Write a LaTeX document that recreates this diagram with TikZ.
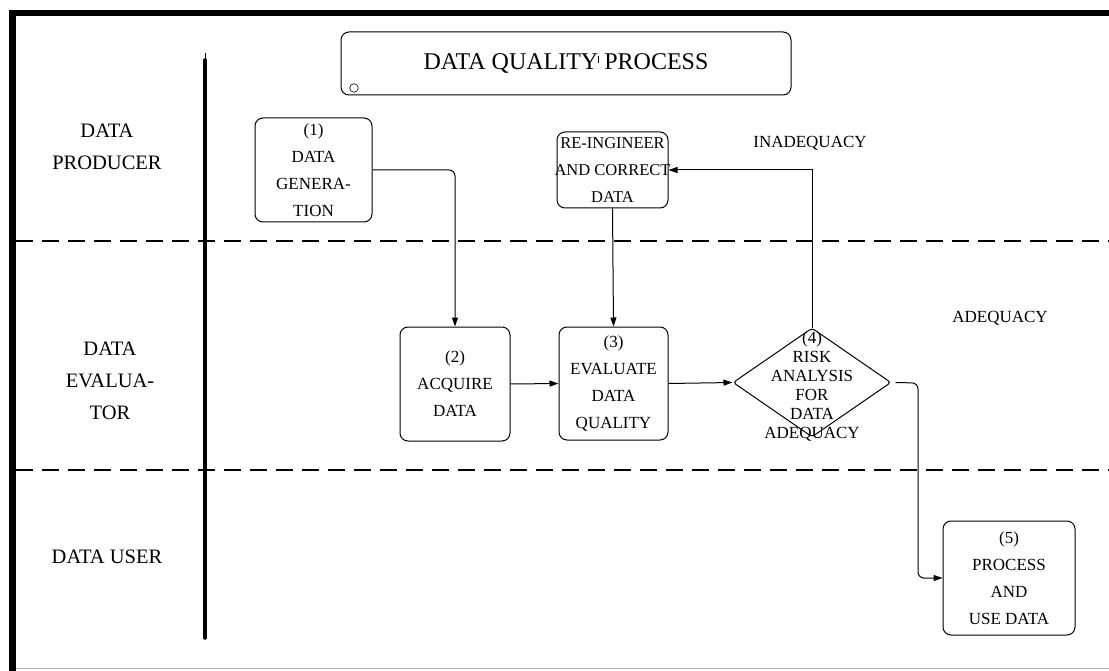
\documentclass[tikz,border=0pt]{standalone}
\usepackage{fontspec}
\setmainfont{Liberation Serif}
\usetikzlibrary{shapes.geometric,arrows.meta}
\newcommand{\fixw}[1]{\makebox[100pt][c]{#1}}
\begin{document}
\begin{tikzpicture}[x=1pt,y=-1pt,
  box/.style={draw,line width=1pt,rounded corners=8pt,inner sep=0pt,align=center,
    font={\fontsize{17}{27}\selectfont}},
  lane/.style={align=center,font={\fontsize{20.5}{32}\selectfont}},
  conn/.style={draw,line width=1pt,-{Triangle[length=9pt,width=6pt]}},
  divider/.style={line width=2pt,dash pattern=on 17pt off 9pt},
  lbl/.style={font={\fontsize{17}{20}\selectfont}}]
\useasboundingbox (0,0) rectangle (1109,671);
% frame
\draw[line width=6pt] (9.5,13) -- (1109,13);
\draw[line width=7pt] (12.5,10) -- (12.5,671);
\draw[gray!60,line width=1pt] (16,668.5) -- (1109,668.5);
% lane divider
\draw[line width=3.5pt,line cap=round] (205,60) -- (205,638);
\draw[line width=1pt] (205,53) -- (205,62);
% dashed separators
\draw[divider] (16,241) -- (1109,241);
\draw[divider] (16,470) -- (1109,470);
% title
\node[draw,line width=1pt,rounded corners=8pt,minimum width=450pt,minimum height=63pt,
  font={\fontsize{24}{28}\selectfont}] (title) at (566,63.5)
  {DATA QUALITY\rlap{\raisebox{6pt}{\rule{0.8pt}{7pt}}} PROCESS};
\draw[line width=0.6pt] (354,88) circle (4.3pt);
% lane labels
\node[lane] (lp) at (107,147) {DATA\\PRODUCER};
\node[lane] (le) at (110,381) {DATA\\EVALUA-\\TOR};
\node[lane] (lu) at (107,557) {DATA USER};
% boxes
\node[box,minimum width=117pt,minimum height=104pt] (g) at (313.5,170) {(1)\\DATA\\GENERA-\\TION};
\node[box,minimum width=111pt,minimum height=76pt,font={\fontsize{16.5}{27}\selectfont}] (r) at (612.5,170)
  {\fixw{RE-INGINEER}\\\fixw{AND CORRECT}\\\fixw{DATA}};
\node[box,minimum width=110pt,minimum height=114pt] (a) at (455,384) {(2)\\ACQUIRE\\DATA};
\node[box,minimum width=109pt,minimum height=113pt] (e) at (613.5,383.5) {(3)\\EVALUATE\\DATA\\QUALITY};
\node[draw,line width=1pt,diamond,rounded corners=3pt,minimum width=158pt,minimum height=109pt,inner sep=0pt] (d) at (812,382.5) {};
\node[align=center,font={\fontsize{17}{19}\selectfont}] (dt) at (812,386) {(4)\\RISK\\ANALYSIS\\FOR\\DATA\\ADEQUACY};
\node[box,minimum width=132pt,minimum height=114pt] (p) at (1009,578) {(5)\\PROCESS\\AND\\USE DATA};
% labels
\node[lbl] (inad) at (810,143) {INADEQUACY};
\node[lbl] (ad) at (1000,318) {ADEQUACY};
% connectors
\draw[conn,rounded corners=6pt] (g.east) -| (a.north);
\draw[conn] (r.south) -- (e.north);
\draw[conn] (a.east) -- (e.west);
\draw[conn] (e.east) -- (d.west);
\draw[conn] (d.north) |- (r.east);
\coordinate (k1) at (918,383);
\draw[conn,rounded corners=6pt] ([xshift=4pt]d.east) -- (k1) |- (p.west);
\end{tikzpicture}
\end{document}
